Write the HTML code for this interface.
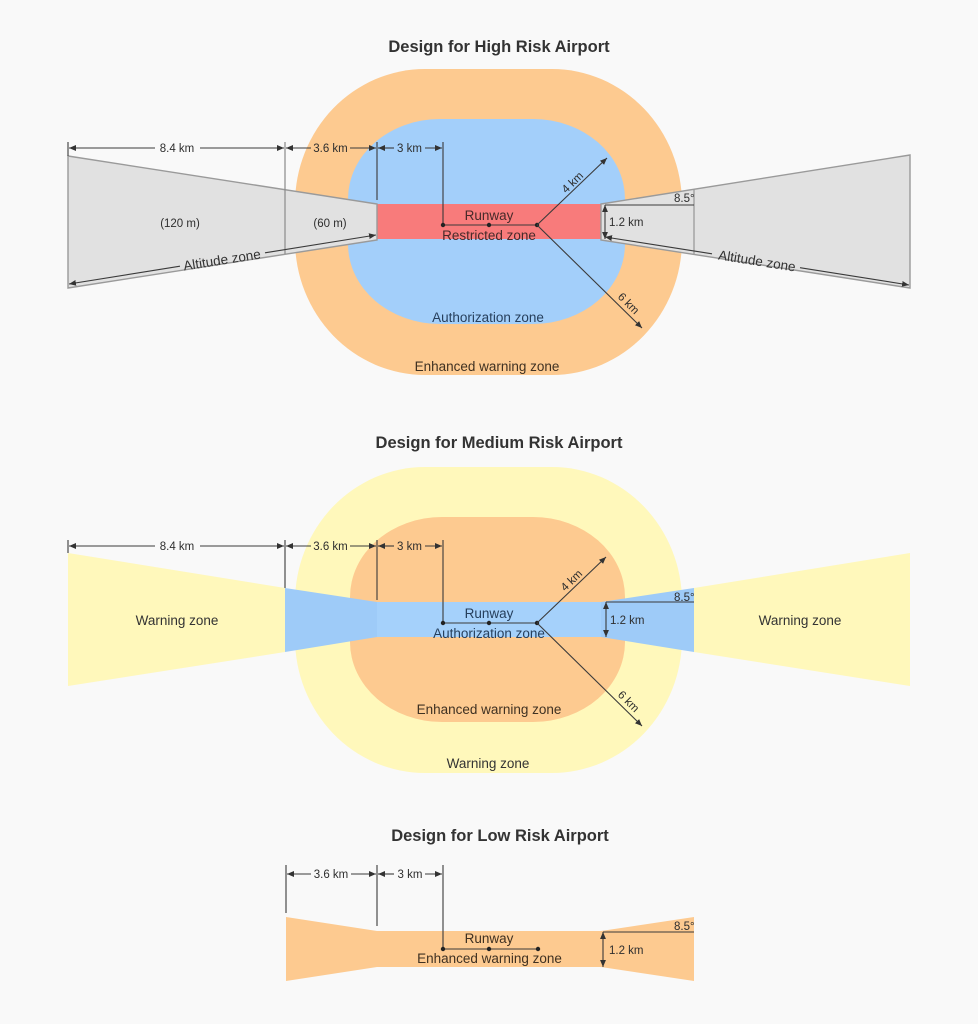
<!DOCTYPE html>
<html><head><meta charset="utf-8">
<style>
html,body{margin:0;padding:0;background:#f9f9f9;}
svg{display:block;}
text{font-family:"Liberation Sans",Arial,sans-serif;}
.t{font-size:16.5px;font-weight:bold;fill:#333;text-anchor:middle;}
.d{font-size:11.5px;fill:#2e2e2e;}
.dc{font-size:11.5px;fill:#2e2e2e;text-anchor:middle;}
.z{font-size:13.5px;text-anchor:middle;}
.ln{stroke:#3a3a3a;stroke-width:1.1;fill:none;}
</style></head>
<body>
<svg width="978" height="1024" viewBox="0 0 978 1024" xmlns="http://www.w3.org/2000/svg">
<defs>
<marker id="ah" viewBox="0 0 10 10" refX="10" refY="5" markerWidth="7" markerHeight="7" markerUnits="userSpaceOnUse" orient="auto-start-reverse">
<path d="M0,0.8 L10,5 L0,9.2 z" fill="#333"/>
</marker>
</defs>
<rect width="978" height="1024" fill="#f9f9f9"/>

<!-- ============ HIGH RISK ============ -->
<text class="t" x="499" y="52">Design for High Risk Airport</text>
<rect x="295" y="69" width="387" height="306" rx="130" ry="135" fill="#fdca90"/>
<rect x="348" y="119" width="277" height="205" rx="92" ry="80" fill="#a3cffa"/>
<rect x="377" y="204" width="225" height="35" fill="#f87b7b"/>

<!-- left altitude trapezoid -->
<polygon points="68,156 377,204 377,240 68,288" fill="#e1e1e1" stroke="#9a9a9a" stroke-width="1.4"/>
<line x1="285" y1="142" x2="285" y2="254" stroke="#8a8a8a" stroke-width="1.2"/>
<!-- right altitude trapezoid -->
<polygon points="601,204 910,155 910,288 601,240" fill="#e1e1e1" stroke="#9a9a9a" stroke-width="1.4"/>
<line x1="694" y1="189" x2="694" y2="255" stroke="#9a9a9a" stroke-width="1.3"/>
<line x1="605" y1="205" x2="694" y2="205" class="ln"/>

<text class="dc" x="180" y="227">(120 m)</text>
<text class="dc" x="330" y="227">(60 m)</text>

<!-- altitude arrows -->
<line x1="180" y1="266.2" x2="69" y2="284" class="ln" marker-end="url(#ah)"/>
<line x1="265" y1="252.8" x2="376" y2="235" class="ln" marker-end="url(#ah)"/>
<text class="z" fill="#333" font-size="14" transform="translate(222,260) rotate(-9)" dominant-baseline="central">Altitude zone</text>
<line x1="712" y1="253.8" x2="605" y2="237" class="ln" marker-end="url(#ah)"/>
<line x1="800" y1="267.7" x2="909" y2="285" class="ln" marker-end="url(#ah)"/>
<text class="z" fill="#333" font-size="14" transform="translate(757,261) rotate(9)" dominant-baseline="central">Altitude zone</text>

<!-- dimension lines -->
<line x1="68" y1="142" x2="68" y2="156" class="ln"/>
<line x1="377" y1="142" x2="377" y2="200" class="ln"/>
<line x1="443" y1="142" x2="443" y2="225" class="ln"/>
<line x1="155" y1="148" x2="69" y2="148" class="ln" marker-end="url(#ah)"/>
<line x1="200" y1="148" x2="284" y2="148" class="ln" marker-end="url(#ah)"/>
<text class="dc" x="177" y="152">8.4 km</text>
<line x1="311" y1="148" x2="286" y2="148" class="ln" marker-end="url(#ah)"/>
<line x1="350" y1="148" x2="376" y2="148" class="ln" marker-end="url(#ah)"/>
<text class="dc" x="330.5" y="152">3.6 km</text>
<line x1="394" y1="148" x2="378" y2="148" class="ln" marker-end="url(#ah)"/>
<line x1="425" y1="148" x2="442" y2="148" class="ln" marker-end="url(#ah)"/>
<text class="dc" x="409.5" y="152">3 km</text>

<!-- runway -->
<line x1="443" y1="225" x2="537" y2="225" class="ln"/>
<circle cx="443" cy="225" r="2.2" fill="#222"/>
<circle cx="489" cy="225" r="2.2" fill="#222"/>
<circle cx="537" cy="225" r="2.2" fill="#222"/>
<line x1="537" y1="225" x2="607" y2="158" class="ln" marker-end="url(#ah)"/>
<line x1="537" y1="225" x2="642" y2="328" class="ln" marker-end="url(#ah)"/>
<text class="d" transform="translate(573,183) rotate(-44)" text-anchor="middle" dominant-baseline="central">4 km</text>
<text class="d" transform="translate(628,304) rotate(45)" text-anchor="middle" dominant-baseline="central">6 km</text>
<line x1="605" y1="205" x2="605" y2="239" class="ln" marker-start="url(#ah)" marker-end="url(#ah)"/>
<text class="d" x="609" y="226">1.2 km</text>
<text class="d" x="674" y="202" font-size="11">8.5°</text>

<text class="z" x="489" y="220" fill="#472a2a">Runway</text>
<text class="z" x="489" y="240" fill="#472a2a">Restricted zone</text>
<text class="z" x="488" y="322" fill="#263f5c">Authorization zone</text>
<text class="z" x="487" y="371" fill="#3f3122">Enhanced warning zone</text>

<!-- ============ MEDIUM RISK ============ -->
<text class="t" x="499" y="448">Design for Medium Risk Airport</text>
<rect x="295" y="467" width="387" height="306" rx="130" ry="135" fill="#fff8bb"/>
<rect x="350" y="517" width="275" height="205" rx="92" ry="80" fill="#fdca90"/>
<polygon points="68,553 285,588 285,652 68,686" fill="#fff8bb"/>
<polygon points="910,553 694,588 694,652 910,686" fill="#fff8bb"/>
<polygon points="285,588 377,602 377,637 285,652" fill="#9ecbf8"/>
<polygon points="694,588 601,602 601,637 694,652" fill="#9ecbf8"/>
<rect x="377" y="602" width="224" height="35" fill="#a5d1fb"/>
<line x1="606" y1="602" x2="694" y2="602" class="ln"/>

<text class="z" x="177" y="625" fill="#333">Warning zone</text>
<text class="z" x="800" y="625" fill="#333">Warning zone</text>

<line x1="68" y1="540" x2="68" y2="553" class="ln"/>
<line x1="285" y1="540" x2="285" y2="588" class="ln"/>
<line x1="377" y1="540" x2="377" y2="600" class="ln"/>
<line x1="443" y1="540" x2="443" y2="623" class="ln"/>
<line x1="155" y1="546" x2="69" y2="546" class="ln" marker-end="url(#ah)"/>
<line x1="200" y1="546" x2="284" y2="546" class="ln" marker-end="url(#ah)"/>
<text class="dc" x="177" y="550">8.4 km</text>
<line x1="311" y1="546" x2="286" y2="546" class="ln" marker-end="url(#ah)"/>
<line x1="350" y1="546" x2="376" y2="546" class="ln" marker-end="url(#ah)"/>
<text class="dc" x="330.5" y="550">3.6 km</text>
<line x1="394" y1="546" x2="378" y2="546" class="ln" marker-end="url(#ah)"/>
<line x1="425" y1="546" x2="442" y2="546" class="ln" marker-end="url(#ah)"/>
<text class="dc" x="409.5" y="550">3 km</text>

<line x1="443" y1="623" x2="537" y2="623" class="ln"/>
<circle cx="443" cy="623" r="2.2" fill="#222"/>
<circle cx="489" cy="623" r="2.2" fill="#222"/>
<circle cx="537" cy="623" r="2.2" fill="#222"/>
<line x1="537" y1="623" x2="606" y2="557" class="ln" marker-end="url(#ah)"/>
<line x1="537" y1="623" x2="642" y2="726" class="ln" marker-end="url(#ah)"/>
<text class="d" transform="translate(572,581) rotate(-44)" text-anchor="middle" dominant-baseline="central">4 km</text>
<text class="d" transform="translate(628,702) rotate(45)" text-anchor="middle" dominant-baseline="central">6 km</text>
<line x1="606" y1="602" x2="606" y2="637" class="ln" marker-start="url(#ah)" marker-end="url(#ah)"/>
<text class="d" x="610" y="624">1.2 km</text>
<text class="d" x="674" y="601" font-size="11">8.5°</text>

<text class="z" x="489" y="618" fill="#263f5c">Runway</text>
<text class="z" x="489" y="638" fill="#263f5c">Authorization zone</text>
<text class="z" x="489" y="714" fill="#3f3122">Enhanced warning zone</text>
<text class="z" x="488" y="768" fill="#333">Warning zone</text>

<!-- ============ LOW RISK ============ -->
<text class="t" x="500" y="841">Design for Low Risk Airport</text>
<polygon points="286,917 377,931 601,931 694,917 694,981 601,967 377,967 286,981" fill="#fdca90"/>
<line x1="603" y1="932" x2="694" y2="932" class="ln"/>

<line x1="286" y1="865" x2="286" y2="913" class="ln"/>
<line x1="377" y1="865" x2="377" y2="926" class="ln"/>
<line x1="443" y1="865" x2="443" y2="949" class="ln"/>
<line x1="311" y1="874" x2="287" y2="874" class="ln" marker-end="url(#ah)"/>
<line x1="351" y1="874" x2="376" y2="874" class="ln" marker-end="url(#ah)"/>
<text class="dc" x="331" y="878">3.6 km</text>
<line x1="394" y1="874" x2="378" y2="874" class="ln" marker-end="url(#ah)"/>
<line x1="425" y1="874" x2="442" y2="874" class="ln" marker-end="url(#ah)"/>
<text class="dc" x="410" y="878">3 km</text>

<line x1="443" y1="949" x2="538" y2="949" class="ln"/>
<circle cx="443" cy="949" r="2.2" fill="#222"/>
<circle cx="489" cy="949" r="2.2" fill="#222"/>
<circle cx="538" cy="949" r="2.2" fill="#222"/>
<line x1="603" y1="932" x2="603" y2="967" class="ln" marker-start="url(#ah)" marker-end="url(#ah)"/>
<text class="d" x="609" y="954">1.2 km</text>
<text class="d" x="674" y="930" font-size="11">8.5°</text>

<text class="z" x="489" y="943" fill="#3f3122">Runway</text>
<text class="z" x="489.5" y="963" fill="#3f3122">Enhanced warning zone</text>
</svg>
</body></html>
